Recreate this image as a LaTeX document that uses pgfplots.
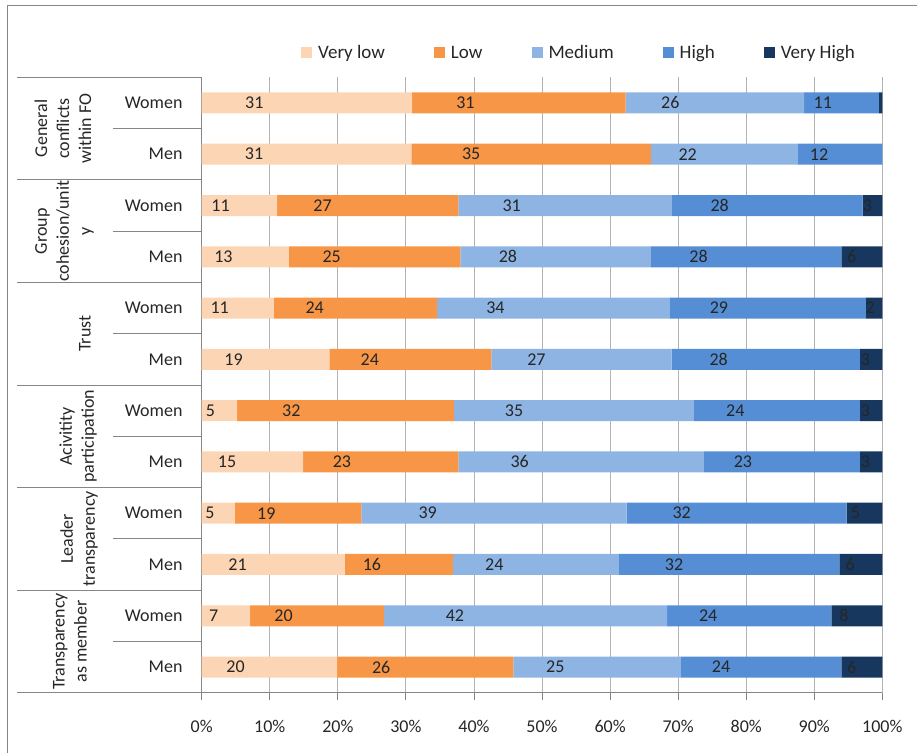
\documentclass[border=0pt]{standalone}
\usepackage{pgfplots}
\pgfplotsset{compat=1.18}
\usepackage{fontspec}
\setmainfont{Carlito}
\definecolor{cVL}{HTML}{FCD5B5}
\definecolor{cL}{HTML}{F79646}
\definecolor{cM}{HTML}{8EB4E3}
\definecolor{cH}{HTML}{558ED5}
\definecolor{cVH}{HTML}{17375E}
\definecolor{axgray}{HTML}{868686}
\definecolor{gridgray}{HTML}{B3B3B3}
\definecolor{txt}{HTML}{262626}
\newcommand\cf{\fontsize{18bp}{22bp}\selectfont}
\begin{document}
\begin{tikzpicture}
\useasboundingbox (-201.7bp,-60.3bp) rectangle (715.3bp,692.7bp);
\draw[axgray, line width=1bp] (-194.4bp,-62bp) -- (-194.4bp,686.7bp) -- (717bp,686.7bp);
\begin{axis}[
  at={(0,0)}, anchor=south west,
  scale only axis, width=680.6bp, height=615.4bp,
  xbar stacked, bar width=21bp,
  xmin=0, xmax=100, ymin=-0.5, ymax=11.5,
  axis x line*=bottom, axis y line*=left,
  axis line style={axgray, line width=0.8bp},
  xmajorgrids, grid style={gridgray, line width=0.8bp},
  xtick={0,10,...,100},
  xticklabels={0\%,10\%,20\%,30\%,40\%,50\%,60\%,70\%,80\%,90\%,100\%},
  ytick={0,...,11},
  yticklabels={Men,Women,Men,Women,Men,Women,Men,Women,Men,Women,Men,Women},
  tick align=outside, major tick length=7bp,
  xtick style={axgray, line width=0.8bp},
  ytick style={draw=none},
  xticklabel style={font=\cf, text=txt, anchor=center, yshift=-27bp},
  yticklabel style={font=\cf, text=txt, anchor=east, inner sep=0pt, xshift=-12bp},
  clip=false,
  nodes near coords,
  point meta=explicit symbolic,
  visualization depends on=rawx \as \rawx,
  every node near coord/.append style={anchor=center, inner sep=0pt, font=\cf, text=txt,
     xshift={-\rawx*1.7015bp}},
  legend columns=5,
  legend image code/.code={\fill[#1] (0bp,-5.5bp) rectangle (11bp,5.5bp);},
  legend style={at={(0.1459,1.0395)}, anchor=west, draw=none, fill=none, inner sep=0pt,
     font=\fontsize{19bp}{22bp}\selectfont, text=txt, nodes={inner sep=0pt},
     /tikz/every odd column/.append style={column sep=6bp},
     /tikz/every even column/.append style={column sep=49bp}},
  legend cell align=left,
]
\addplot[fill=cVL, draw=none] coordinates {
 (30.9,11) [31] (30.8,10) [31] (11.1,9) [11] (12.8,8) [13] (10.6,7) [11] (18.75,6) [19]
 (5.2,5) [5] (14.9,4) [15] (4.85,3) [5] (21.05,2) [21] (7.1,1) [7] (19.9,0) [20]};
\addplot[fill=cL, draw=none] coordinates {
 (31.4,11) [31] (35.2,10) [35] (26.6,9) [27] (25.2,8) [25] (24.0,7) [24] (23.8,6) [24]
 (31.9,5) [32] (22.8,4) [23] (18.6,3) [19] (15.85,2) [16] (19.7,1) [20] (25.9,0) [26]};
\addplot[fill=cM, draw=none] coordinates {
 (26.2,11) [26] (21.6,10) [22] (31.4,9) [31] (28.0,8) [28] (34.2,7) [34] (26.5,6) [27]
 (35.2,5) [35] (36.1,4) [36] (39.0,3) [39] (24.4,2) [24] (41.6,1) [42] (24.6,0) [25]};
\addplot[fill=cH, draw=none] coordinates {
 (11.0,11) [11] (12.4,10) [12] (28.0,9) [28] (28.0,8) [28] (28.8,7) [29] (27.65,6) [28]
 (24.4,5) [24] (22.9,4) [23] (32.3,3) [32] (32.4,2) [32] (24.1,1) [24] (23.6,0) [24]};
\addplot[fill=cVH, draw=none] coordinates {
 (0.5,11) [{}] (0,10) [{}] (2.9,9) [3] (6.0,8) [6] (2.4,7) [2] (3.3,6) [3]
 (3.3,5) [3] (3.3,4) [3] (5.25,3) [5] (6.3,2) [6] (7.5,1) [8] (6.0,0) [6]};
\legend{Very low, Low, Medium, High, Very High}
% category separators
\draw[axgray, line width=0.8bp] ([xshift=-184.7bp]axis cs:0,11.5) -- (axis cs:0,11.5);
\draw[axgray, line width=0.8bp] ([xshift=-184.7bp]axis cs:0,9.5) -- (axis cs:0,9.5);
\draw[axgray, line width=0.8bp] ([xshift=-184.7bp]axis cs:0,7.5) -- (axis cs:0,7.5);
\draw[axgray, line width=0.8bp] ([xshift=-184.7bp]axis cs:0,5.5) -- (axis cs:0,5.5);
\draw[axgray, line width=0.8bp] ([xshift=-184.7bp]axis cs:0,3.5) -- (axis cs:0,3.5);
\draw[axgray, line width=0.8bp] ([xshift=-184.7bp]axis cs:0,1.5) -- (axis cs:0,1.5);
\draw[axgray, line width=0.8bp] ([xshift=-184.7bp]axis cs:0,-0.5) -- (axis cs:0,-0.5);
\draw[axgray, line width=0.8bp] ([xshift=-88.7bp]axis cs:0,10.5) -- (axis cs:0,10.5);
\draw[axgray, line width=0.8bp] ([xshift=-88.7bp]axis cs:0,8.5) -- (axis cs:0,8.5);
\draw[axgray, line width=0.8bp] ([xshift=-88.7bp]axis cs:0,6.5) -- (axis cs:0,6.5);
\draw[axgray, line width=0.8bp] ([xshift=-88.7bp]axis cs:0,4.5) -- (axis cs:0,4.5);
\draw[axgray, line width=0.8bp] ([xshift=-88.7bp]axis cs:0,2.5) -- (axis cs:0,2.5);
\draw[axgray, line width=0.8bp] ([xshift=-88.7bp]axis cs:0,0.5) -- (axis cs:0,0.5);
% group labels
\tikzset{grp/.style={rotate=90, align=center, font=\cf, text=txt, inner sep=0pt}}
\node[grp] at ([xshift=-138.7bp]axis cs:0,10.5) {General\\conflicts\\within FO};
\node[grp] at ([xshift=-137.2bp]axis cs:0,8.5) {Group\\cohesion/unit\\y};
\node[grp] at ([xshift=-116.7bp]axis cs:0,6.5) {Trust};
\node[grp] at ([xshift=-123.7bp]axis cs:0,4.5) {Acivitity\\participation};
\node[grp] at ([xshift=-122.7bp]axis cs:0,2.5) {Leader\\transparency};
\node[grp] at ([xshift=-131.7bp]axis cs:0,0.5) {Transparency\\as member};
\end{axis}
\end{tikzpicture}
\end{document}
